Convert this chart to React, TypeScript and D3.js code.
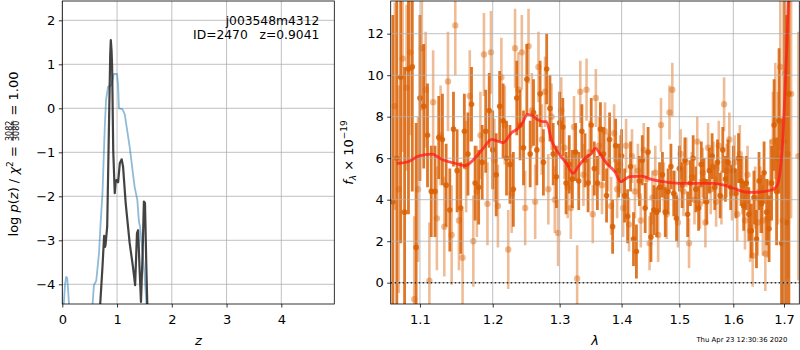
import React, { useEffect, useRef } from "react"
import * as d3 from "d3"

const FONT = "DejaVu Sans, Verdana, sans-serif"

// ---- left panel: log p(z) vs z ----
const zTicks = [0, 1, 2, 3, 4]
const logpTicks = [-4, -3, -2, -1, 0, 1, 2]

// chi2-based curve (light blue), [z, log p]
const pzChi2: [number, number][] = [
	[0.0, -5.5], [0.02, -4.6], [0.05, -4.0], [0.07, -3.83], [0.09, -3.86], [0.11, -4.2],
	[0.13, -4.6], [0.16, -5.5], [0.5, -5.5], [0.545, -4.6], [0.577, -4.02], [0.62, -3.92],
	[0.67, -3.3], [0.7, -2.6], [0.734, -1.93], [0.776, -0.42], [0.8, 0.2], [0.836, 0.49],
	[0.897, 0.53], [0.94, 0.78], [1.0, 0.78], [1.02, 0.5], [1.035, 0.0], [1.098, -0.02],
	[1.14, -0.13], [1.23, -0.87], [1.32, -1.78], [1.37, -2.08], [1.4, -2.58], [1.42, -2.69],
	[1.46, -3.2], [1.5, -3.75], [1.545, -4.6], [1.6, -5.5],
]

// log p(z) (dark), [z, log p]
const pzLog: [number, number][] = [
	[0.685, -4.6], [0.734, -3.6], [0.764, -2.9], [0.78, -3.15], [0.79, -3.1], [0.82, -2.69],
	[0.85, -0.56], [0.875, 1.2], [0.886, 1.55], [0.9, 1.3], [0.91, 0.95], [0.93, -0.95],
	[0.958, -1.93], [0.975, -1.65], [0.99, -1.63], [1.02, -1.68], [1.05, -1.25], [1.085, -1.16],
	[1.11, -1.33], [1.158, -2.16], [1.23, -3.06], [1.29, -3.6], [1.33, -4.02], [1.364, -2.84],
	[1.385, -2.77], [1.41, -3.6], [1.437, -4.4], [1.467, -3.3], [1.49, -2.12], [1.51, -2.15],
	[1.535, -3.6], [1.56, -4.8],
]

const titleId = "j003548m4312"
const titleFit = "ID=2470   z=0.9041"

// ---- right panel: spectrum ----
const lamTicks = [1.1, 1.2, 1.3, 1.4, 1.5, 1.6, 1.7]
const fluxTicks = [0, 2, 4, 6, 8, 10, 12]

// first orientation (dark), [lambda, flux, err]
const specDark: [number, number, number][] = [
	[1.065, 3.9, 9], [1.07, 6.0, 8], [1.075, 9.9, 8], [1.08, 3.4, 7], [1.085, 10.3, 7],
	[1.09, 10.4, 6], [1.095, 1.7, 6], [1.1, 8.9, 4], [1.105, 8.5, 3], [1.11, 7.1, 2.5],
	[1.115, 4.4, 2.2], [1.12, 4.4, 2.2], [1.125, 7.0, 2.0], [1.13, 6.9, 2.2], [1.135, 4.7, 2.0],
	[1.14, 3.5, 2.0], [1.145, 7.4, 1.8], [1.15, 5.4, 2.0], [1.155, 3.6, 2.2], [1.16, 7.3, 1.8],
	[1.165, 6.2, 2.0], [1.17, 8.6, 1.8], [1.175, 4.8, 1.8], [1.18, 4.6, 1.8], [1.185, 5.8, 1.8],
	[1.19, 7.3, 2.0], [1.195, 8.3, 1.8], [1.2, 6.4, 1.9], [1.205, 5.2, 2.0], [1.21, 8.5, 1.7],
	[1.215, 7.8, 1.8], [1.22, 6.0, 1.8], [1.225, 5.7, 1.9], [1.23, 4.5, 1.8], [1.235, 8.9, 1.8],
	[1.24, 7.6, 1.7], [1.245, 6.5, 1.8], [1.25, 9.8, 1.7], [1.255, 6.2, 1.6], [1.26, 8.2, 1.6],
	[1.265, 6.4, 1.7], [1.27, 9.1, 1.6], [1.275, 5.8, 1.6], [1.28, 10.3, 1.7], [1.285, 8.4, 1.6],
	[1.29, 6.2, 1.5], [1.295, 5.1, 1.5], [1.3, 7.7, 1.5], [1.305, 7.5, 1.4], [1.31, 4.8, 1.5],
	[1.315, 5.7, 1.4], [1.32, 5.0, 1.4], [1.325, 6.3, 1.4], [1.33, 4.9, 1.4], [1.335, 7.3, 1.3],
	[1.34, 5.9, 1.3], [1.345, 4.8, 1.4], [1.35, 7.6, 1.3], [1.355, 5.5, 1.3], [1.36, 4.8, 1.3],
	[1.365, 7.4, 1.3], [1.37, 6.2, 1.3], [1.375, 4.2, 1.3], [1.38, 6.9, 1.3], [1.385, 2.7, 1.3],
	[1.39, 6.6, 1.3], [1.395, 5.4, 1.3], [1.4, 6.1, 1.3], [1.405, 4.2, 1.3], [1.41, 3.2, 1.3],
	[1.415, 5.6, 1.2], [1.42, 2.1, 1.3], [1.425, 1.5, 1.3], [1.43, 4.9, 1.2], [1.435, 5.9, 1.2],
	[1.44, 3.6, 1.2], [1.445, 6.3, 1.2], [1.45, 2.2, 1.2], [1.455, 3.5, 1.2], [1.46, 3.4, 1.2],
	[1.465, 4.6, 1.2], [1.47, 5.2, 1.1], [1.475, 3.4, 1.2], [1.48, 4.4, 1.1], [1.485, 5.6, 1.1],
	[1.49, 4.3, 1.1], [1.495, 3.1, 1.1], [1.5, 5.5, 1.1], [1.505, 4.7, 1.1], [1.51, 5.9, 1.1],
	[1.515, 3.3, 1.1], [1.52, 4.8, 1.1], [1.525, 6.0, 1.1], [1.53, 4.5, 1.1], [1.535, 3.6, 1.1],
	[1.54, 5.7, 1.1], [1.545, 4.9, 1.1], [1.55, 3.9, 1.1], [1.555, 5.4, 1.1], [1.56, 6.1, 1.1],
	[1.565, 4.6, 1.1], [1.57, 5.8, 1.1], [1.575, 4.2, 1.1], [1.58, 6.4, 1.1], [1.585, 5.0, 1.1],
	[1.59, 5.8, 1.1], [1.595, 4.6, 1.1], [1.6, 5.4, 1.2], [1.605, 4.3, 1.2], [1.61, 6.0, 1.2],
	[1.615, 4.9, 1.2], [1.62, 3.7, 1.2], [1.625, 4.8, 1.3], [1.63, 3.3, 1.3], [1.635, 2.5, 1.3],
	[1.64, 4.1, 1.3], [1.645, 2.1, 1.4], [1.65, 4.9, 1.4], [1.655, 3.8, 1.4], [1.66, 5.3, 1.5],
	[1.665, 3.4, 1.6], [1.67, 2.6, 1.6], [1.675, 4.8, 1.8], [1.68, 7.6, 2.2], [1.685, 4.4, 2.6],
	[1.69, 7.8, 3.5], [1.695, 1.9, 6], [1.7, 6.8, 9], [1.705, 2.9, 10], [1.71, 9.1, 12],
]

// second orientation (light), [lambda, flux, err]
const specLight: [number, number, number][] = [
	[1.0675, 8.5, 5], [1.0725, 4.5, 5], [1.0775, 10.8, 4.5], [1.0825, 9.4, 4], [1.0875, 11.1, 4],
	[1.0925, -0.8, 4], [1.0975, 4.5, 3.5], [1.1025, 11.3, 3], [1.1075, 9.3, 2.8], [1.1125, 0.1, 2.8],
	[1.1175, 8.7, 2.5], [1.1225, 3.1, 2.5], [1.1275, 7.1, 2.4], [1.1325, 2.7, 2.4], [1.1375, 9.7, 2.4],
	[1.1425, 2.3, 2.4], [1.1475, 12.4, 2.4], [1.1525, 3.0, 2.4], [1.1575, 1.2, 2.3], [1.1625, 5.6, 2.2],
	[1.1675, 9.0, 2.2], [1.1725, 2.0, 2.2], [1.1775, 4.4, 2.2], [1.1825, 7.1, 2.1], [1.1875, 11.0, 2.0],
	[1.1925, 3.8, 2.0], [1.1975, 11.1, 2.0], [1.2025, 5.9, 2.0], [1.2075, 3.7, 2.0], [1.2125, 9.9, 1.9],
	[1.2175, 7.6, 1.9], [1.2225, 1.6, 1.9], [1.2275, 4.3, 1.9], [1.2325, 11.3, 1.9], [1.2375, 9.3, 1.8],
	[1.2425, 11.1, 1.8], [1.2475, 3.6, 1.8], [1.2525, 11.4, 1.8], [1.2575, 8.3, 1.8], [1.2625, 3.9, 1.8],
	[1.2675, 10.4, 1.7], [1.2725, 6.9, 1.7], [1.2775, 9.2, 1.7], [1.2825, 4.5, 1.7], [1.2875, 8.0, 1.6],
	[1.2925, 4.0, 1.6], [1.2975, 2.4, 1.6], [1.3025, 8.3, 1.6], [1.3075, 6.5, 1.5], [1.3125, 4.6, 1.5],
	[1.3175, 3.6, 1.5], [1.3225, 7.5, 1.5], [1.3275, 0.2, 1.6], [1.3325, 9.2, 1.5], [1.3375, 5.2, 1.5],
	[1.3425, 9.3, 1.5], [1.3475, 6.3, 1.5], [1.3525, 3.3, 1.4], [1.3575, 8.9, 1.4], [1.3625, 6.6, 1.4],
	[1.3675, 4.7, 1.4], [1.3725, 7.3, 1.4], [1.3775, 5.8, 1.4], [1.3825, 3.7, 1.4], [1.3875, 7.2, 1.4],
	[1.3925, 4.5, 1.4], [1.3975, 5.7, 1.4], [1.4025, 3.6, 1.4], [1.4075, 6.6, 1.3], [1.4125, 2.8, 1.3],
	[1.4175, 6.1, 1.3], [1.4225, 4.4, 1.3], [1.4275, 5.4, 1.3], [1.4325, 3.0, 1.3], [1.4375, 6.4, 1.3],
	[1.4425, 5.0, 1.3], [1.4475, 1.9, 1.3], [1.4525, 4.1, 1.3], [1.4575, 5.3, 1.3], [1.4625, 2.3, 1.3],
	[1.4675, 7.6, 1.3], [1.4725, 4.6, 1.2], [1.4775, 3.3, 1.2], [1.4825, 8.2, 1.3], [1.4875, 9.3, 1.3],
	[1.4925, 4.2, 1.2], [1.4975, 2.9, 1.2], [1.5025, 6.2, 1.2], [1.5075, 4.4, 1.2], [1.5125, 5.8, 1.2],
	[1.5175, 1.9, 1.2], [1.5225, 5.1, 1.2], [1.5275, 4.0, 1.2], [1.5325, 6.8, 1.2], [1.5375, 3.8, 1.2],
	[1.5425, 5.3, 1.2], [1.5475, 2.9, 1.2], [1.5525, 6.5, 1.2], [1.5575, 4.5, 1.2], [1.5625, 5.6, 1.2],
	[1.5675, 3.9, 1.2], [1.5725, 6.6, 1.2], [1.5775, 4.1, 1.3], [1.5825, 8.6, 1.3], [1.5875, 5.4, 1.3],
	[1.5925, 6.9, 1.3], [1.5975, 4.3, 1.3], [1.6025, 5.8, 1.3], [1.6075, 3.3, 1.3], [1.6125, 6.2, 1.4],
	[1.6175, 4.7, 1.4], [1.6225, 3.0, 1.4], [1.6275, 5.2, 1.4], [1.6325, 2.5, 1.5], [1.6375, 1.3, 1.5],
	[1.6425, 4.1, 1.5], [1.6475, 2.9, 1.6], [1.6525, 4.0, 1.6], [1.6575, 3.0, 1.7], [1.6625, 1.4, 1.8],
	[1.6675, 3.1, 1.9], [1.6725, 4.8, 2.1], [1.6775, 6.8, 2.4], [1.6825, 7.8, 2.8], [1.6875, 6.0, 3.2],
	[1.6925, 10.4, 4], [1.6975, 3.0, 5], [1.7025, 10.1, 6], [1.7075, 6.2, 6], [1.7145, 9.1, 6],
	[1.7295, 6.1, 6],
]

// best-fit model, [lambda, flux]
const modelFlux: [number, number][] = [
	[1.0698, 5.75], [1.0847, 5.83], [1.098, 6.1], [1.1155, 6.2], [1.131, 5.91], [1.1447, 5.78],
	[1.1608, 5.64], [1.1724, 5.91], [1.1865, 6.47], [1.1984, 6.91], [1.2053, 6.84], [1.2151, 6.75],
	[1.2274, 7.23], [1.2372, 7.44], [1.2445, 7.76], [1.2505, 8.11], [1.2568, 8.08], [1.267, 7.84],
	[1.2746, 7.76], [1.2797, 7.76], [1.2873, 6.88], [1.295, 6.39], [1.3107, 5.75], [1.3212, 5.27],
	[1.329, 5.59], [1.3397, 5.99], [1.3504, 6.23], [1.3569, 6.47], [1.3639, 6.23], [1.375, 5.75],
	[1.3887, 5.35], [1.3986, 4.87], [1.4053, 4.98], [1.4136, 5.11], [1.4336, 5.14], [1.4508, 4.98],
	[1.4711, 4.87], [1.5007, 4.79], [1.531, 4.79], [1.5618, 4.79], [1.5806, 4.71], [1.6, 4.55],
	[1.6189, 4.39], [1.6383, 4.35], [1.658, 4.39], [1.6747, 4.47], [1.6848, 4.63], [1.6916, 5.27],
	[1.6984, 7.2], [1.704, 10.4], [1.709, 13.6], [1.712, 16],
]

const stamp = "Thu Apr 23 12:30:36 2020"

const TOP = 1
const BOTTOM = 304

function drawGrid(g: any, x: any, y: any, xt: number[], yt: number[]) {
	const [x0, x1] = x.range()
	const [y0, y1] = y.range()
	const gg = g.append("g").attr("stroke", "#b0b0b0").attr("stroke-width", 0.8)
	gg.selectAll(null).data(xt).enter().append("line")
		.attr("x1", (d: number) => x(d)).attr("x2", (d: number) => x(d))
		.attr("y1", y0).attr("y2", y1)
	gg.selectAll(null).data(yt).enter().append("line")
		.attr("x1", x0).attr("x2", x1)
		.attr("y1", (d: number) => y(d)).attr("y2", (d: number) => y(d))
}

function drawAxes(g: any, x: any, y: any, xt: number[], yt: number[], fx: any, fy: any) {
	const [x0, x1] = x.range()
	const [y0, y1] = y.range()
	const ax = g.append("g").attr("transform", `translate(0,${y0})`)
		.call(d3.axisBottom(x).tickValues(xt).tickFormat(fx).tickSize(3.5).tickSizeOuter(0).tickPadding(7.5))
	const ay = g.append("g").attr("transform", `translate(${x0},0)`)
		.call(d3.axisLeft(y).tickValues(yt).tickFormat(fy).tickSize(3.5).tickSizeOuter(0).tickPadding(3.5))
	for (const a of [ax, ay]) {
		a.select(".domain").remove()
		a.attr("font-family", FONT).attr("font-size", 13)
		a.selectAll("line").attr("stroke", "#000").attr("stroke-width", 0.8)
		a.selectAll("text").attr("fill", "#000")
	}
	g.append("rect")
		.attr("x", x0).attr("y", y1).attr("width", x1 - x0).attr("height", y0 - y1)
		.attr("fill", "none").attr("stroke", "#000").attr("stroke-width", 0.8)
}

function App() {
	const ref = useRef<SVGSVGElement>(null)

	useEffect(() => {
		const svg = d3.select(ref.current)
		svg.selectAll("*").remove()
		const defs = svg.append("defs")

		// scales
		const xz = d3.scaleLinear().domain([0, 4.968]).range([62.3, 334.3])
		const yp = d3.scaleLinear().domain([-4.448, 2.439]).range([BOTTOM, TOP])
		const xl = d3.scaleLog().domain([1.0622, 1.7314]).range([390.7, 799.3])
		const yf = d3.scaleLinear().domain([-1.027, 13.576]).range([BOTTOM, TOP])

		defs.append("clipPath").attr("id", "clipL").append("rect")
			.attr("x", 62.3).attr("y", TOP).attr("width", 334.3 - 62.3).attr("height", BOTTOM - TOP)
		defs.append("clipPath").attr("id", "clipR").append("rect")
			.attr("x", 390.7).attr("y", TOP).attr("width", 799.3 - 390.7).attr("height", BOTTOM - TOP)

		// ---- left panel ----
		const left = svg.append("g")
		drawGrid(left, xz, yp, zTicks, logpTicks)
		const lineZ = d3.line<[number, number]>().x((d) => xz(d[0])).y((d) => yp(d[1]))
		const lp = left.append("g").attr("clip-path", "url(#clipL)")
		lp.append("path").attr("d", lineZ(pzChi2)).attr("fill", "none")
			.attr("stroke", "#1f77b4").attr("stroke-opacity", 0.5).attr("stroke-width", 1.8)
			.attr("stroke-linejoin", "round")
		lp.append("path").attr("d", lineZ(pzLog)).attr("fill", "none")
			.attr("stroke", "#222").attr("stroke-opacity", 0.85).attr("stroke-width", 2.2)
			.attr("stroke-linejoin", "round")
		drawAxes(left, xz, yp, zTicks, logpTicks, d3.format("d"), d3.format("d"))

		const title = left.append("g").attr("font-family", FONT).attr("font-size", 12.3)
			.attr("text-anchor", "end").attr("fill", "#000")
		title.append("text").attr("x", 319.3).attr("y", 24.5).text(titleId)
		title.append("text").attr("x", 319.3).attr("y", 38.5)
			.attr("xml:space", "preserve").style("white-space", "pre").text(titleFit)

		left.append("text").attr("x", 198.3).attr("y", 345).attr("text-anchor", "middle")
			.attr("font-family", FONT).attr("font-size", 13).attr("font-style", "italic").text("z")

		// y label: log p(z) / chi2 = 3082/3080 = 1.00
		const yl = left.append("g").attr("transform", "translate(18.3,154) rotate(-90)")
			.attr("font-family", FONT).attr("fill", "#000")
		const inner = yl.append("g")
		const t1 = inner.append("text").attr("font-size", 13).attr("xml:space", "preserve")
			.style("white-space", "pre")
		t1.append("tspan").text("log ")
		t1.append("tspan").attr("font-style", "italic").text("p")
		t1.append("tspan").text("(")
		t1.append("tspan").attr("font-style", "italic").text("z")
		t1.append("tspan").text(") / ")
		t1.append("tspan").attr("font-style", "italic").text("χ")
		t1.append("tspan").attr("font-size", 9).attr("dy", -5.5).text("2")
		t1.append("tspan").attr("dy", 5.5).text(" = ")
		const w1 = (t1.node() as SVGTextElement).getComputedTextLength()
		const fx0 = w1 + 1
		const num = inner.append("text").attr("font-size", 8).attr("x", fx0).attr("y", -6.6).text("3082")
		inner.append("text").attr("font-size", 8).attr("x", fx0).attr("y", 0.6).text("3080")
		const wf = (num.node() as SVGTextElement).getComputedTextLength()
		inner.append("line").attr("x1", fx0).attr("x2", fx0 + wf).attr("y1", -5.2).attr("y2", -5.2)
			.attr("stroke", "#000").attr("stroke-width", 0.7)
		const t2 = inner.append("text").attr("font-size", 13).attr("x", fx0 + wf + 1)
			.attr("xml:space", "preserve").style("white-space", "pre").text(" = 1.00")
		const w2 = (t2.node() as SVGTextElement).getComputedTextLength()
		inner.attr("transform", `translate(${-(fx0 + wf + 1 + w2) / 2},0)`)

		// ---- right panel ----
		const right = svg.append("g")
		const rp = right.append("g").attr("clip-path", "url(#clipR)")
		const base = "#d95f02"
		const drawSpec = (data: [number, number, number][], op: number, lw: number, r: number) => {
			const sg = rp.append("g")
			sg.selectAll(null).data(data).enter().append("line")
				.attr("x1", (d) => xl(d[0])).attr("x2", (d) => xl(d[0]))
				.attr("y1", (d) => yf(d[1] - d[2])).attr("y2", (d) => yf(d[1] + d[2]))
				.attr("stroke", base).attr("stroke-opacity", op).attr("stroke-width", lw)
			sg.selectAll(null).data(data).enter().append("circle")
				.attr("cx", (d) => xl(d[0])).attr("cy", (d) => yf(d[1])).attr("r", r)
				.attr("fill", base).attr("fill-opacity", op)
		}
		drawSpec(specLight, 0.42, 2.6, 3.2)
		drawSpec(specDark, 0.85, 2.8, 2.8)

		drawGrid(right, xl, yf, lamTicks, fluxTicks)

		const lineL = d3.line<[number, number]>().x((d) => xl(d[0])).y((d) => yf(d[1]))
			.curve(d3.curveMonotoneX)
		right.append("g").attr("clip-path", "url(#clipR)").append("path")
			.attr("d", lineL(modelFlux)).attr("fill", "none")
			.attr("stroke", "#ff1a1a").attr("stroke-opacity", 0.75).attr("stroke-width", 2.8)
			.attr("stroke-linejoin", "round")

		right.append("line").attr("x1", 390.7).attr("x2", 799.3)
			.attr("y1", yf(0)).attr("y2", yf(0))
			.attr("stroke", "#000").attr("stroke-opacity", 0.8).attr("stroke-width", 1.5)
			.attr("stroke-dasharray", "1.5,2.5")

		drawAxes(right, xl, yf, lamTicks, fluxTicks, d3.format(".1f"), d3.format("d"))

		right.append("text").attr("x", 595).attr("y", 345).attr("text-anchor", "middle")
			.attr("font-family", FONT).attr("font-size", 13).attr("font-style", "italic").text("λ")

		const fl = right.append("text").attr("font-family", FONT).attr("font-size", 13)
			.attr("transform", "translate(352.7,152.5) rotate(-90)")
			.attr("text-anchor", "middle").attr("xml:space", "preserve").style("white-space", "pre")
		fl.append("tspan").attr("font-style", "italic").text("f")
		fl.append("tspan").attr("font-size", 9).attr("font-style", "italic").attr("dy", 3).text("λ")
		fl.append("tspan").attr("dy", -3).text(" × 10")
		fl.append("tspan").attr("font-size", 9).attr("dy", -5.5).text("−19")

		svg.append("text").attr("x", 787.3).attr("y", 342).attr("text-anchor", "end")
			.attr("font-family", FONT).attr("font-size", 6.9).attr("fill", "#000")
			.text(stamp)
	}, [])

	return (
		<svg
			ref={ref}
			width={800}
			height={350}
			style={{ position: "absolute", left: 0, top: 0, background: "#fff" }}
		/>
	)
}

export default App
